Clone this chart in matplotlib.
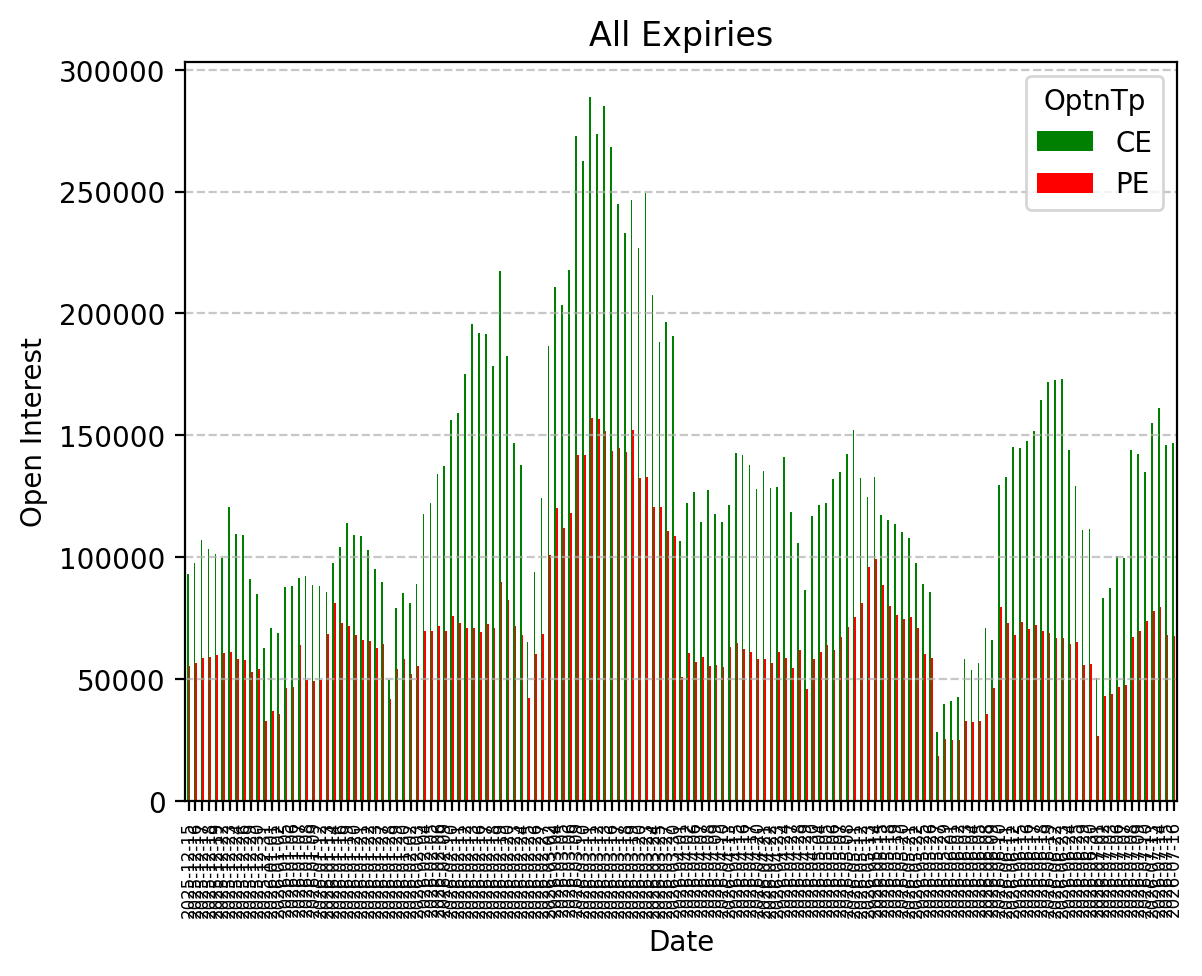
import numpy as np
import pandas as pd
import matplotlib
matplotlib.use("Agg")
import matplotlib.pyplot as plt

# trading days 2025-12-15 .. 2026-07-16, exchange holidays removed
holidays = ["2025-12-25", "2026-01-15", "2026-01-26", "2026-03-03", "2026-03-26",
            "2026-03-31", "2026-04-03", "2026-04-14", "2026-05-01", "2026-05-28",
            "2026-06-26"]
days = pd.bdate_range("2025-12-15", "2026-07-16")
dates = [d.strftime("%Y-%m-%d") for d in days if d.strftime("%Y-%m-%d") not in holidays]

# open interest
ce_oi = [92950, 97500, 107000, 103300, 101200, 99700, 120600, 109500, 109100, 90900,
         84700, 62800, 71050, 69000, 87600, 88000, 91300, 92100, 88400, 88000,
         85900, 97500, 104100, 114000, 109100, 108700, 102900, 95000, 89650, 49570,
         79320, 85100, 81380, 88820, 117700, 122300, 134300, 137200, 156200, 159000,
         175000, 195500, 192000, 191500, 178500, 217500, 182500, 146700, 138000, 65300,
         93800, 124300, 186500, 211000, 203300, 217800, 272800, 262400, 288800, 273600,
         285000, 268300, 244900, 233000, 246400, 226800, 249400, 207600, 188200, 196500,
         190700, 106600, 122300, 126800, 114400, 127500, 117800, 114400, 121300, 142600,
         141900, 137700, 128000, 135200, 128200, 128600, 141000, 118700, 105900, 86600,
         116700, 121600, 122400, 131900, 134800, 142200, 152100, 132300, 124500, 132700,
         117100, 115400, 113800, 110500, 108000, 97700, 89000, 85700, 28400, 39600,
         40800, 42500, 58100, 53600, 56500, 70900, 66000, 129800, 132700, 145100,
         144700, 147600, 151700, 164500, 171900, 172700, 173100, 143900, 129000, 111300,
         111700, 50300, 83300, 87400, 100600, 99800, 143900, 142200, 134800, 155000,
         161200, 145900, 146700]
pe_oi = [55400, 56600, 58700, 59100, 59900, 60700, 61100, 58300, 57800, 52900,
         54100, 33000, 36800, 35500, 46300, 46700, 64000, 49600, 49200, 49600,
         68600, 81400, 73100, 71900, 68200, 66100, 65700, 62800, 64400, 41700,
         54100, 58300, 52100, 55400, 69800, 69800, 71900, 69800, 76000, 73100,
         71100, 71100, 69400, 72700, 71100, 89700, 82600, 71900, 68200, 42100,
         60300, 68600, 100800, 120200, 112000, 118100, 141900, 141900, 157100, 156700,
         151700, 143600, 144700, 143200, 152200, 132400, 132800, 120600, 120600, 110800,
         108700, 50900, 60700, 56900, 59000, 55400, 55800, 54800, 63100, 64800,
         62400, 61000, 58200, 58100, 56500, 61000, 58500, 54400, 61800, 45800,
         58100, 61000, 63900, 61800, 67200, 71300, 75400, 81200, 96000, 99300,
         88600, 80000, 76300, 74600, 75400, 70900, 60200, 58500, 18600, 25600,
         25100, 25100, 32600, 32200, 32600, 35500, 46200, 79600, 73000, 68000,
         73400, 70500, 72100, 69700, 68800, 66800, 66800, 64300, 65100, 55700,
         56100, 26800, 42900, 43700, 46600, 47400, 67200, 69700, 73800, 77900,
         79600, 68000, 67600]

df = pd.DataFrame({"CE": ce_oi, "PE": pe_oi}, index=pd.Index(dates, name="Date"))
df.columns.name = "OptnTp"

ax = df.plot(kind="bar", color=["green", "red"], figsize=(6.4, 4.8))
ax.set_title("All Expiries")
ax.set_ylabel("Open Interest")
ax.set_xlabel("Date")
plt.xticks(fontsize=6, rotation=90)
ax.grid(axis="y", linestyle="--", alpha=0.7)

plt.savefig("out.png", dpi=200, bbox_inches="tight")
